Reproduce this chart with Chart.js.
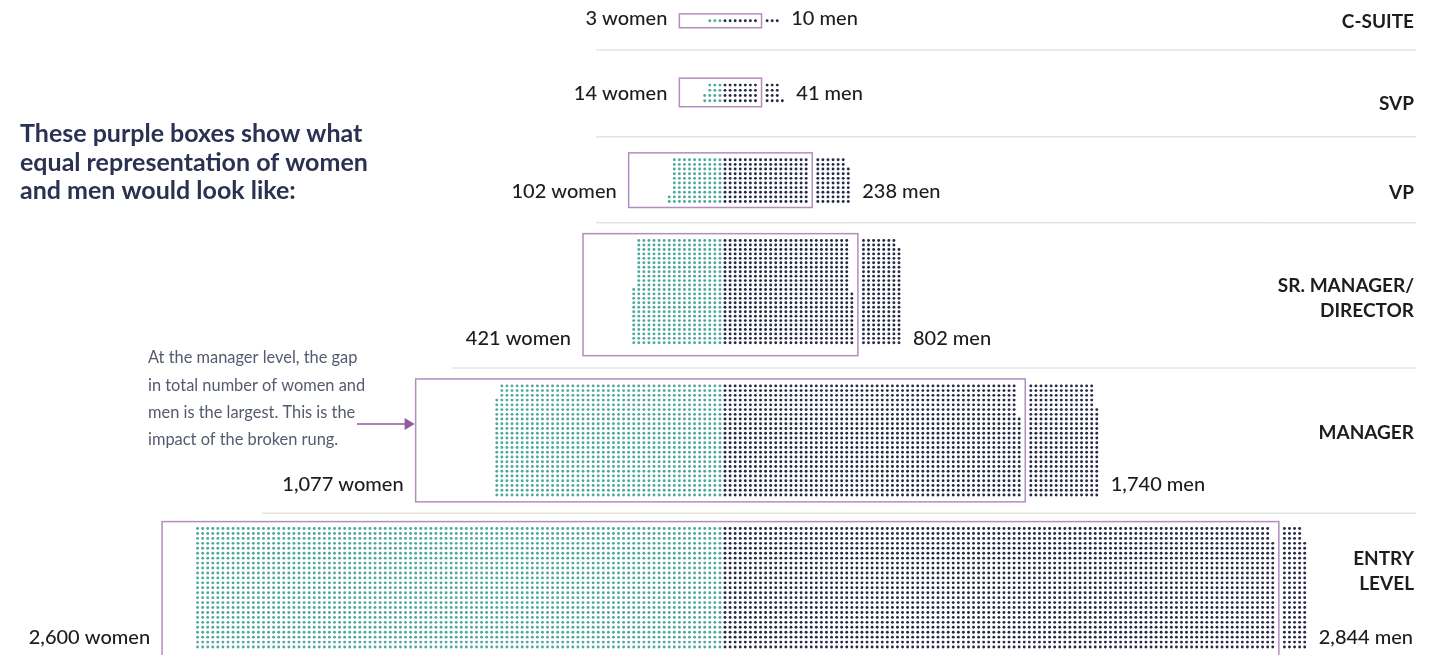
<!DOCTYPE html>
<html>
<head>
<meta charset="utf-8">
<script src="https://cdn.jsdelivr.net/npm/chart.js@4.4.1/dist/chart.umd.min.js"></script>
<style>
    html, body { margin: 0; padding: 0; background: #fff; }
    #contenedor { position: relative; width: 1439px; height: 655px; }
</style>
</head>
<body>
<div id="contenedor"><canvas id="graficaEscalera"></canvas></div>
<script>
// datos de la figura (una persona = un punto)
const levels = ['C-SUITE', 'SVP', 'VP', 'SR. MANAGER/|DIRECTOR', 'MANAGER', 'ENTRY|LEVEL'];
const women = [3, 14, 102, 421, 1077, 2600];
const men = [10, 41, 238, 802, 1740, 2844];
const womenLabels = ['3 women', '14 women', '102 women', '421 women', '1,077 women', '2,600 women'];
const menLabels = ['10 men', '41 men', '238 men', '802 men', '1,740 men', '2,844 men'];

// disposicion de cada nivel
const rowsPerLevel = [1, 4, 10, 24, 24, 25];
const rowGap = [5, 5.3, 4.7, 4.5, 4.8, 5];
const bottomRow = [17, 98, 200, 343, 497, 651];
const boxBottomPad = [7, 6, 6, 13, 7, 20];
const labelLift = [2, 7, 10, 4, 11, 10];
const levelNameY = [22, 104, 193, 298, 433, 571];
const separators = [[46, 596], [134, 596], [221, 596], [368, 452], [515, 262]];
const COL_W = 5.1;
const CENTER_X = 722.5;
const OUT_GAP = 2.3;   // columnas vacias entre la caja y los hombres sobrantes
const BOX_PAD = 1.2;

const TEAL = '#4fa99d';
const NAVY = '#262a48';
const PURPLE = '#b48cc0';

const puntosMujeres = [];
const puntosHombres = [];
const cajas = [];

levels.forEach((nivel, i) => {
    const R = rowsPerLevel[i];
    const yBase = bottomRow[i];

    // mujeres: hacia la izquierda desde el centro, columna por columna de abajo hacia arriba
    for (let k = 0; k < women[i]; k++) {
        puntosMujeres.push({ x: -0.5 - Math.floor(k / R), y: yBase - (k % R) * rowGap[i] });
    }

    // hombres: la mitad del total dentro de la caja, el resto afuera
    const mitad = Math.ceil((women[i] + men[i]) / 2);
    const dentro = Math.min(men[i], mitad);
    const ultimaCol = Math.ceil(dentro / R) - 1;
    let ultimaX = 0;
    for (let k = 0; k < men[i]; k++) {
        let col, fila;
        if (k < dentro) {
            col = Math.floor(k / R);
            fila = k % R;
        } else {
            const m = k - dentro;
            col = ultimaCol + OUT_GAP + Math.floor(m / R);
            fila = m % R;
        }
        ultimaX = Math.max(ultimaX, 0.5 + col);
        puntosHombres.push({ x: 0.5 + col, y: yBase - fila * rowGap[i] });
    }

    const borde = 0.5 + ultimaCol + BOX_PAD;
    cajas.push({
        izq: -borde - 0.8,
        der: borde,
        arriba: yBase - (R - 1) * rowGap[i] - 7,
        abajo: yBase + boxBottomPad[i],
        finHombres: ultimaX
    });
});

const dibujoExtra = {
    id: 'dibujoExtra',
    beforeDatasetsDraw(chart) {
        const ctx = chart.ctx;
        const xs = chart.scales.x;
        const ys = chart.scales.y;
        ctx.save();

        // lineas separadoras
        ctx.strokeStyle = '#d6d6d6';
        ctx.lineWidth = 1;
        separators.forEach(([y, x0]) => {
            ctx.beginPath();
            ctx.moveTo(x0, ys.getPixelForValue(y) + 0.5);
            ctx.lineTo(1416, ys.getPixelForValue(y) + 0.5);
            ctx.stroke();
        });

        // cajas de representacion igual
        ctx.strokeStyle = PURPLE;
        ctx.lineWidth = 1.5;
        cajas.forEach(c => {
            const x0 = xs.getPixelForValue(c.izq);
            const x1 = xs.getPixelForValue(c.der);
            const y0 = ys.getPixelForValue(c.arriba);
            const y1 = ys.getPixelForValue(c.abajo);
            ctx.fillStyle = '#fff';
            ctx.fillRect(x0, y0, x1 - x0, y1 - y0);
            ctx.strokeRect(x0, y0, x1 - x0, y1 - y0);
        });
        ctx.restore();
    },
    afterDatasetsDraw(chart) {
        const ctx = chart.ctx;
        const xs = chart.scales.x;
        const ys = chart.scales.y;
        ctx.save();
        ctx.textBaseline = 'middle';

        levels.forEach((nivel, i) => {
            const c = cajas[i];
            const yTexto = ys.getPixelForValue(bottomRow[i] - labelLift[i]);

            ctx.fillStyle = '#1d1d1f';
            ctx.font = '500 20px Lato';
            ctx.textAlign = 'right';
            ctx.fillText(womenLabels[i], xs.getPixelForValue(c.izq) - 12, yTexto);
            ctx.textAlign = 'left';
            ctx.fillText(menLabels[i], xs.getPixelForValue(c.finHombres) + 14, yTexto);

            // nombre del nivel a la derecha
            ctx.font = 'bold 19px Lato';
            ctx.textAlign = 'right';
            const partes = nivel.split('|');
            partes.forEach((p, j) => {
                ctx.fillText(p, 1414, levelNameY[i] + (j - (partes.length - 1) / 2) * 25);
            });
        });

        // nota de la izquierda
        ctx.textAlign = 'left';
        ctx.fillStyle = '#2b3251';
        ctx.font = 'bold 25px Lato';
        ['These purple boxes show what', 'equal representation of women', 'and men would look like:']
            .forEach((t, j) => ctx.fillText(t, 20, 134 + j * 28.5));

        ctx.fillStyle = '#555b6f';
        ctx.font = '16.4px Lato';
        ['At the manager level, the gap', 'in total number of women and', 'men is the largest. This is the', 'impact of the broken rung.']
            .forEach((t, j) => ctx.fillText(t, 148, 358 + j * 27.3));

        // flecha hacia la caja de manager
        const cajaM = cajas[4];
        const punta = xs.getPixelForValue(cajaM.izq) - 1;
        ctx.strokeStyle = '#8f5c9c';
        ctx.fillStyle = '#8f5c9c';
        ctx.lineWidth = 1.6;
        ctx.beginPath();
        ctx.moveTo(357, 424);
        ctx.lineTo(punta - 8, 424);
        ctx.stroke();
        ctx.beginPath();
        ctx.moveTo(punta, 424);
        ctx.lineTo(punta - 10, 418);
        ctx.lineTo(punta - 10, 430);
        ctx.closePath();
        ctx.fill();

        ctx.restore();
    }
};

const ctx = document.getElementById('graficaEscalera').getContext('2d');

window.miGrafica = new Chart(ctx, {
    type: 'scatter',
    data: {
        datasets: [
            {
                label: 'Women',
                data: puntosMujeres,
                backgroundColor: TEAL,
                pointRadius: 1.45,
                pointBorderWidth: 0
            },
            {
                label: 'Men',
                data: puntosHombres,
                backgroundColor: NAVY,
                pointRadius: 1.45,
                pointBorderWidth: 0
            }
        ]
    },
    options: {
        responsive: true,
        maintainAspectRatio: false,
        animation: false,
        events: [],
        layout: { padding: 0 },
        plugins: {
            legend: { display: false },
            tooltip: { enabled: false }
        },
        scales: {
            x: {
                type: 'linear',
                display: false,
                min: -CENTER_X / COL_W,
                max: (1439 - CENTER_X) / COL_W
            },
            y: {
                type: 'linear',
                display: false,
                reverse: true,
                min: 0,
                max: 655
            }
        }
    },
    plugins: [dibujoExtra]
});
</script>
</body>
</html>
